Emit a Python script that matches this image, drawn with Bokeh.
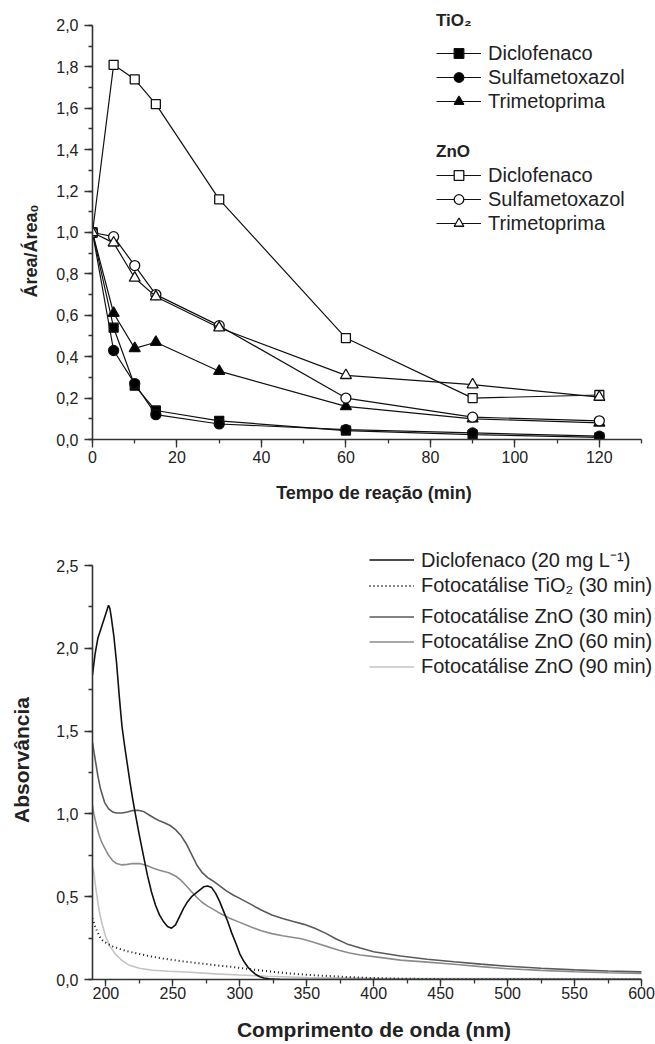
import math
from bokeh.plotting import figure
from bokeh.layouts import column
from bokeh.models import (Range1d, SingleIntervalTicker, CustomJSTickFormatter,
                          Legend, LegendItem, Title)
from bokeh.embed import file_html
from bokeh.resources import INLINE

FONT = "Liberation Sans"
INK = "#222222"
AX = "#333333"

# ---------------- top chart data ----------------
time_min = [0, 5, 10, 15, 30, 60, 90, 120]
tio2_diclofenaco = [1.0, 0.54, 0.26, 0.14, 0.09, 0.043, 0.024, 0.01]
tio2_sulfametoxazol = [1.0, 0.43, 0.27, 0.12, 0.075, 0.048, 0.032, 0.016]
tio2_trimetoprima = [1.0, 0.61, 0.44, 0.47, 0.33, 0.16, 0.10, 0.08]
zno_diclofenaco = [1.0, 1.81, 1.74, 1.62, 1.16, 0.49, 0.20, 0.215]
zno_sulfametoxazol = [1.0, 0.98, 0.84, 0.70, 0.55, 0.20, 0.108, 0.09]
zno_trimetoprima = [1.0, 0.95, 0.78, 0.69, 0.54, 0.31, 0.265, 0.205]

# ---------------- bottom chart data ----------------
wl_dic = [190, 192, 194, 196, 198, 200, 202, 203, 204, 205, 206, 207, 208, 210, 212, 214, 216, 218, 220, 222,
          225, 228, 231, 234, 237, 240, 243, 246, 249, 252, 255, 258, 261, 264, 267, 270, 273, 276, 279, 282,
          285, 288, 291, 294, 297, 300, 303, 306, 309, 312, 315, 318, 322, 326, 330, 340, 360, 400, 450, 500,
          550, 600]
abs_dic = [1.84, 1.97, 2.06, 2.11, 2.16, 2.21, 2.26, 2.24, 2.19, 2.13, 2.07, 1.99, 1.91, 1.71, 1.53, 1.41, 1.30, 1.19, 1.09, 1.00,
           0.87, 0.75, 0.63, 0.53, 0.45, 0.39, 0.35, 0.32, 0.31, 0.33, 0.38, 0.43, 0.47, 0.50, 0.52, 0.54, 0.56, 0.565, 0.555, 0.52,
           0.47, 0.41, 0.35, 0.28, 0.22, 0.155, 0.11, 0.075, 0.05, 0.03, 0.017, 0.009, 0.004, 0.002, 0.001, 0.0, 0.0, 0.0, 0.0, 0.0,
           0.0, 0.0]

wl_tio2 = [190, 192, 194, 196, 198, 201, 205, 210, 215, 222, 230, 240, 248, 260, 272, 282, 294, 310, 325, 338,
           355, 378, 395, 420, 450, 500, 600]
abs_tio2 = [0.37, 0.32, 0.28, 0.25, 0.232, 0.216, 0.2, 0.185, 0.172, 0.16, 0.145, 0.13, 0.12, 0.107, 0.096, 0.086, 0.076, 0.06, 0.046, 0.036,
            0.026, 0.016, 0.01, 0.005, 0.002, 0.001, 0.0]

wl_zno30 = [190, 192, 194, 196, 199, 202, 205, 208, 212, 216, 220, 224, 228, 232, 236, 240, 244, 248, 252, 256,
            260, 264, 268, 272, 276, 280, 285, 290, 295, 300, 308, 316, 324, 332, 340, 348, 356, 364, 372, 380,
            390, 400, 420, 440, 460, 480, 500, 525, 550, 575, 600]
abs_zno30 = [1.43, 1.33, 1.23, 1.15, 1.07, 1.03, 1.012, 1.005, 1.005, 1.012, 1.02, 1.022, 1.015, 0.995, 0.975, 0.958, 0.945, 0.93, 0.905, 0.87,
             0.82, 0.755, 0.69, 0.645, 0.615, 0.595, 0.565, 0.535, 0.51, 0.49, 0.455, 0.42, 0.39, 0.368, 0.35, 0.333, 0.31, 0.28, 0.245, 0.215,
             0.19, 0.168, 0.142, 0.122, 0.107, 0.093, 0.08, 0.068, 0.058, 0.051, 0.046]

wl_zno60 = [190, 191, 193, 195, 197, 200, 202, 205, 208, 212, 216, 220, 225, 230, 235, 240, 247, 252, 256, 260,
            264, 268, 272, 276, 280, 284, 288, 292, 300, 308, 316, 324, 332, 340, 346, 352, 358, 366, 374, 382,
            390, 400, 420, 440, 460, 480, 500, 525, 550, 575, 600]
abs_zno60 = [1.05, 1.0, 0.93, 0.87, 0.826, 0.78, 0.75, 0.718, 0.70, 0.692, 0.695, 0.70, 0.70, 0.69, 0.673, 0.66, 0.645, 0.625, 0.60, 0.566,
             0.53, 0.495, 0.465, 0.443, 0.425, 0.405, 0.388, 0.372, 0.345, 0.318, 0.295, 0.277, 0.264, 0.254, 0.246, 0.233, 0.218, 0.197, 0.177, 0.16,
             0.148, 0.138, 0.117, 0.105, 0.092, 0.078, 0.065, 0.055, 0.047, 0.041, 0.036]

wl_zno90 = [190, 191, 192, 193, 195, 197, 200, 203, 207, 212, 217, 225, 235, 247, 260, 282, 300, 320, 350, 400, 500, 600]
abs_zno90 = [0.68, 0.65, 0.58, 0.52, 0.415, 0.34, 0.255, 0.2, 0.155, 0.115, 0.088, 0.068, 0.056, 0.05, 0.045, 0.034, 0.027, 0.02, 0.012, 0.008, 0.005, 0.004]

comma_fmt = CustomJSTickFormatter(code="return tick.toFixed(1).replace('.', ',');")


def style_axes(p):
    for ax in (p.xaxis[0], p.yaxis[0]):
        ax.axis_line_color = AX
        ax.axis_line_width = 1.6
        ax.major_tick_line_color = AX
        ax.major_tick_line_width = 1.3
        ax.minor_tick_line_color = AX
        ax.minor_tick_line_width = 1.3
        ax.major_tick_in = 0
        ax.major_tick_out = 8
        ax.minor_tick_in = 0
        ax.minor_tick_out = 4
        ax.major_label_text_font = FONT
        ax.major_label_text_font_size = "16px"
        ax.major_label_text_color = INK
        ax.axis_label_text_font = FONT
        ax.axis_label_text_font_style = "bold"
        ax.axis_label_text_color = INK
    p.yaxis[0].major_label_standoff = 6
    p.xgrid.visible = False
    p.ygrid.visible = False
    p.outline_line_color = None


def make_legend(items, title, loc, standoff, h=24, font_size="20px"):
    lg = Legend(items=items, location=loc, orientation="vertical",
                label_text_font=FONT, label_text_font_size=font_size, label_text_color=INK,
                label_height=h, glyph_height=h, glyph_width=45, label_standoff=7,
                padding=0, margin=0, spacing=0,
                border_line_color=None, background_fill_alpha=0)
    if title:
        lg.title = title
        lg.title_text_font = FONT
        lg.title_text_font_size = "17px"
        lg.title_text_font_style = "bold"
        lg.title_text_color = INK
        lg.title_standoff = standoff
    return lg


# ================= TOP FIGURE =================
# frame extends a little beyond the drawn axes so the legend is not clipped;
# the axes themselves are bounded to the real data span
p1 = figure(width=655, height=513, x_range=Range1d(0, 133.3), y_range=Range1d(0, 2.1014),
            output_backend="svg", toolbar_location=None,
            min_border_left=92, min_border_right=0, min_border_top=4, min_border_bottom=74)
style_axes(p1)
p1.xaxis[0].bounds = (0, 130)
p1.yaxis[0].bounds = (0, 2.0)
p1.xaxis[0].ticker = SingleIntervalTicker(interval=20, num_minor_ticks=2)
p1.yaxis[0].ticker = SingleIntervalTicker(interval=0.2, num_minor_ticks=2)
p1.yaxis[0].formatter = comma_fmt
p1.xaxis[0].major_label_standoff = 3
p1.xaxis[0].axis_label = "Tempo de reação (min)"
p1.xaxis[0].axis_label_text_font_size = "18px"
p1.xaxis[0].axis_label_standoff = 17

series = [
    (tio2_diclofenaco, "square", "black", 9),
    (tio2_sulfametoxazol, "circle", "black", 10),
    (tio2_trimetoprima, "triangle", "black", 11),
    (zno_diclofenaco, "square", "white", 9),
    (zno_sulfametoxazol, "circle", "white", 10),
    (zno_trimetoprima, "triangle", "white", 11),
]
rends = []
for vals, mk, fill, sz in series:
    ln = p1.line(time_min, vals, line_color="#111111", line_width=1.2)
    sc = p1.scatter(time_min, vals, marker=mk, size=sz, fill_color=fill,
                    line_color="#111111", line_width=1.3)
    rends.append((ln, sc))

names = ["Diclofenaco", "Sulfametoxazol", "Trimetoprima"]

leg_tio2 = make_legend([LegendItem(label=n, renderers=list(r)) for n, r in zip(names, rends[:3])],
                       "TiO₂", (344, 326), 10)
leg_zno = make_legend([LegendItem(label=n, renderers=list(r)) for n, r in zip(names, rends[3:])],
                      "ZnO", (344, 204), 1)
p1.add_layout(leg_tio2)
p1.add_layout(leg_zno)

ytitle1 = Title(text="Área/Área₀", align="left", offset=142, vertical_align="middle",
                standoff=23, text_font=FONT, text_font_size="18px", text_font_style="bold",
                text_color=INK)
p1.add_layout(ytitle1, "left")

# ================= BOTTOM FIGURE =================
p2 = figure(width=655, height=531, x_range=Range1d(190, 610.46), y_range=Range1d(0, 2.651),
            output_backend="svg", toolbar_location=None,
            min_border_left=92, min_border_right=0, min_border_top=27, min_border_bottom=65)
style_axes(p2)
p2.xaxis[0].bounds = (190, 600)
p2.yaxis[0].bounds = (0, 2.5)
p2.xaxis[0].ticker = SingleIntervalTicker(interval=50, num_minor_ticks=2)
p2.yaxis[0].ticker = SingleIntervalTicker(interval=0.5, num_minor_ticks=2)
p2.yaxis[0].formatter = comma_fmt
p2.xaxis[0].major_tick_out = 7
p2.xaxis[0].major_label_standoff = 0
p2.xaxis[0].axis_label = "Comprimento de onda (nm)"
p2.xaxis[0].axis_label_text_font_size = "21px"
p2.xaxis[0].axis_label_standoff = 16
p2.yaxis[0].axis_label = "Absorvância"
p2.yaxis[0].axis_label_text_font_size = "21px"
p2.yaxis[0].axis_label_standoff = 20

r90 = p2.line(wl_zno90, abs_zno90, line_color="#c4c4c4", line_width=1.6)
r60 = p2.line(wl_zno60, abs_zno60, line_color="#8c8c8c", line_width=1.6)
r30 = p2.line(wl_zno30, abs_zno30, line_color="#5a5a5a", line_width=1.6)
rti = p2.line(wl_tio2, abs_tio2, line_color="#111111", line_width=2, line_dash="1 3")
rdc = p2.line(wl_dic, abs_dic, line_color="#111111", line_width=1.6)

leg_a = make_legend([LegendItem(label="Diclofenaco (20 mg L⁻¹)", renderers=[rdc]),
                     LegendItem(label="Fotocatálise TiO₂ (30 min)", renderers=[rti])],
                    None, (277, 381), 0, h=25)
leg_b = make_legend([LegendItem(label="Fotocatálise ZnO (30 min)", renderers=[r30]),
                     LegendItem(label="Fotocatálise ZnO (60 min)", renderers=[r60]),
                     LegendItem(label="Fotocatálise ZnO (90 min)", renderers=[r90])],
                    None, (277, 300), 0, h=25)
p2.add_layout(leg_a)
p2.add_layout(leg_b)

layout = column(p1, p2)
open("out.html", "w").write(file_html(layout, INLINE))
